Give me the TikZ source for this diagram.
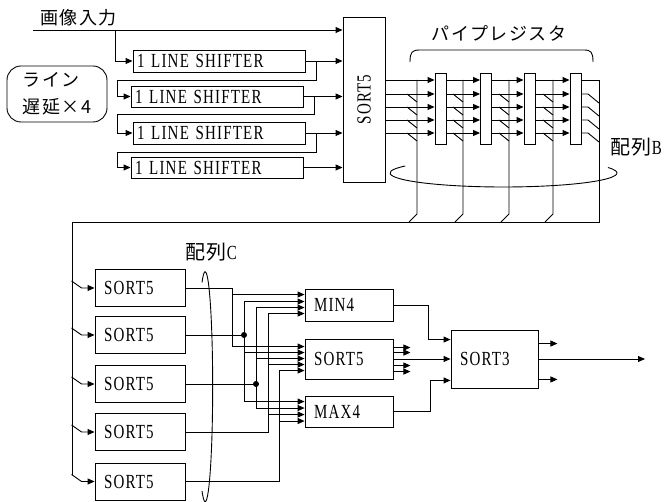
\documentclass[tikz,border=0pt]{standalone}
\usepackage{fontspec}
\setmainfont{Liberation Serif}
\newfontfamily\jpfont[LetterSpace=8]{Noto Sans CJK JP}
\newfontfamily\lblfont[FakeStretch=0.75,LetterSpace=6]{Liberation Serif}
\usetikzlibrary{arrows.meta,calc}
\tikzset{>={Triangle[length=7pt,width=6pt]},every node/.style={font=\lblfont\fontsize{20}{22}\selectfont},
 box/.style={draw,inner xsep=9pt,inner ysep=0pt,text width=#1,align=left},
 shifter/.style={box=164pt,inner xsep=4pt},reg/.style={draw,minimum width=11pt,
 minimum height=71pt,inner sep=0pt},jp/.style={font=\jpfont\fontsize{18}{27}\selectfont}}
\begin{document}
\begin{tikzpicture}[x=1pt,y=-1pt,line width=0.9pt]
\useasboundingbox (0,0) rectangle (665,502);
% input and the four line shifters
\node[jp,anchor=base west,inner sep=0pt] (intxt) at (40,24.5) {画像入力};
\coordinate (inL) at (33,30); \coordinate (t0) at (115,30);
\node[shifter,minimum height=22pt] (s1) at (219,61) {1 LINE SHIFTER};
\node[shifter,minimum height=21pt] (s2) at (217,96.5) {1 LINE SHIFTER};
\node[shifter,minimum height=22pt] (s3) at (219,133) {1 LINE SHIFTER};
\node[shifter,minimum height=21pt] (s4) at (217,167.5) {1 LINE SHIFTER};
\node[draw,minimum width=42pt,minimum height=165pt] (sa) at (364,99.5) {};
\node[rotate=90] (satxt) at (sa) {SORT5};
\node[jp,draw,rounded corners=14pt,minimum width=100pt,minimum height=56pt,align=left] (dly) at (57,94) {ライン\\遅延×4};
\draw[->] (inL) -- (sa.west|-inL);
\draw[->] (t0) |- (s1.west);
\foreach \k in {1,...,4} \draw[->] (s\k.east) -- (sa.west|-s\k.east);
\foreach \a/\b/\y in {s1/s2/80,s2/s3/114,s3/s4/152}
 \draw[->] ($(\a.east)+(11,0)$) |- (117,\y) |- (\b.west);
% pipe registers
\node[jp] (pipetxt) at (499,33) {パイプレジスタ};
\draw (410,62) .. controls (410,52) and (412,50) .. (420,50) -- (584,50) .. controls (591,50) and (593,52) .. (593,62);
\foreach \y [count=\k] in {80,94,107,120,133} \coordinate (y\k) at (0,\y);
\foreach \x [count=\k] in {440.5,486,529.5,575.5} \node[reg] (g\k) at (\x,108.5) {};
\foreach \k in {1,...,5}{
 \draw[->] (sa.east|-y\k) -- (g1.west|-y\k);
 \draw[->] (g1.east|-y\k) -- (g2.west|-y\k);
 \draw[->] (g2.east|-y\k) -- (g3.west|-y\k);
 \draw[->] (g3.east|-y\k) -- (g4.west|-y\k);}
\foreach \x [count=\k] in {417,463,509,553,599} \coordinate (v\k) at (\x,80);
\foreach \k in {1,...,4}{\draw (v\k) -- ++(0,134) -- ++(-8,8);
 \foreach \j in {2,...,5} \draw ($(v\k|-y\j)+(-10,0)$) -- ++(10,8);}
\foreach \j in {2,...,5} \draw (g4.east|-y\j) -- ($(v5|-y\j)+(-11,0)$) -- ++(11,9);
\coordinate (bus) at (72,222); \coordinate (busend) at (72,475);
\draw (g4.east|-y1) -| (v5|-bus) -- (bus) -- (busend);
\node (arrb) at (636,147) {{\jpfont 配列}B};
\draw (405.2,166) arc[start angle=150,end angle=383,x radius=113.5pt,y radius=14pt];
% array C
\foreach \y [count=\k] in {288,335,384,432,481.5} \node[box=72pt,minimum height=37pt] (c\k) at (140,\y) {SORT5};
\foreach \k in {1,...,5} \draw[->] ($(c\k.west)+(-23,-7)$) -- ++(10,7) -- (c\k.west);
\node (arrc) at (211,252) {{\jpfont 配列}C};
\draw (202,282.5) arc[start angle=115,end angle=-115,x radius=7.5pt,y radius=115pt];
% min / median / max
\node[box=70pt,minimum height=32pt] (mn) at (349,305) {MIN4};
\node[box=70pt,minimum height=40pt] (md) at (349,359) {SORT5};
\node[box=70pt,minimum height=31pt] (mx) at (349,411.5) {MAX4};
\node[box=69pt,minimum height=58pt] (st) at (494.5,359) {SORT3};
\foreach \d [count=\k] in {6,13,19,25} \coordinate (pn\k) at ($(mn.north west)+(0,\d)$);
\foreach \d [count=\k] in {8,14,20,26,32} \coordinate (pd\k) at ($(md.north west)+(0,\d)$);
\foreach \d [count=\k] in {6,12.5,19,25.5} \coordinate (px\k) at ($(mx.north west)+(0,\d)$);
\foreach \x [count=\k] in {232,244,256,268,279} \coordinate (col\k) at (\x,0);
\draw[->] (c1.east) -| (col1|-pd1) -- (pd1);
\draw[->] (col1|-pn1) -- (pn1);
\draw (c2.east) -- (col2|-c2.east); \fill (col2|-c2.east) circle[radius=3pt];
\draw (col2|-pn2) -- (col2|-px1);
\draw[->] (col2|-pn2) -- (pn2); \draw[->] (col2|-pd2) -- (pd2); \draw[->] (col2|-px1) -- (px1);
\draw (c3.east) -- (col3|-c3.east); \fill (col3|-c3.east) circle[radius=3pt];
\draw (col3|-pn3) -- (col3|-px2);
\draw[->] (col3|-pn3) -- (pn3); \draw[->] (col3|-pd3) -- (pd3); \draw[->] (col3|-px2) -- (px2);
\draw[->] (c4.east) -| (col4|-pn4) -- (pn4);
\draw[->] (col4|-pd4) -- (pd4); \draw[->] (col4|-px3) -- (px3);
\draw[->] (c5.east) -| (col5|-pd5) -- (pd5);
\draw[->] (col5|-px4) -- (px4);
% into SORT3
\coordinate (q1) at ($(st.north west)+(0,10)$); \coordinate (q3) at ($(st.south west)+(0,-8)$);
\draw[->] (mn.east) -| ($(q1)+(-22,0)$) -- (q1);
\draw[->] (md.east) -- (st.west);
\draw[->] (mx.east) -| ($(q3)+(-20,0)$) -- (q3);
\foreach \d in {9,14,27,33} \draw[->] ($(md.north east)+(0,\d)$) -- ++(17,0);
\coordinate (out) at (645,359);
\draw[->] (st.east) -- (out);
\draw[->] ($(st.north east)+(0,14)$) -- ++(19,0);
\draw[->] ($(st.south east)+(0,-9)$) -- ++(19,0);
\end{tikzpicture}
\end{document}
